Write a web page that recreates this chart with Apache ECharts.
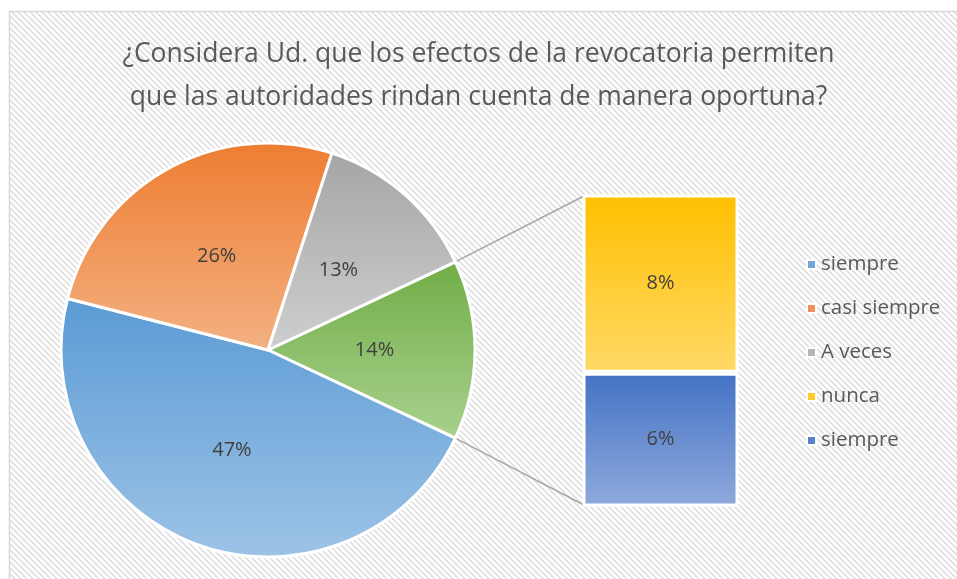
<!DOCTYPE html>
<html>
<head>
<meta charset="utf-8">
<script src="https://cdn.jsdelivr.net/npm/echarts@6/dist/echarts.min.js"></script>
<style>
html,body{margin:0;padding:0;background:#fff;}
#main{width:957px;height:579px;}
</style>
</head>
<body>
<div id="main"></div>
<script>
// ---- data ----
const titleText = '¿Considera Ud. que los efectos de la revocatoria permiten\nque las autoridades rindan cuenta de manera oportuna?';
const pieNames = ['siempre', 'casi siempre', 'A veces'];
const pieValues = [47, 26, 13];
const barNames = ['nunca', 'siempre'];
const barValues = [8, 6];
const legendLabels = ['siempre', 'casi siempre', 'A veces', 'nunca', 'siempre'];

// ---- styles ----
const pieGrad = [['#5B9BD5', '#9DC3E6'], ['#ED7D31', '#F4B183'], ['#A5A5A5', '#CFCFCF']];
const pieSolid = ['#6FA6DA', '#F0905A', '#B5B5B5'];
const otherGrad = ['#70AD47', '#A9D18E'];
const barGrad = [['#FFC000', '#FFD966'], ['#4472C4', '#8FAADC']];
const barSolid = ['#FFC82B', '#5A82CA'];

function grad(c) {
  return new echarts.graphic.LinearGradient(0, 0, 0, 1, [{offset: 0, color: c[0]}, {offset: 1, color: c[1]}]);
}

// background stripe pattern
const pc = document.createElement('canvas');
pc.width = 6; pc.height = 6;
const ctx = pc.getContext('2d');
ctx.fillStyle = '#ffffff';
ctx.fillRect(0, 0, 6, 6);
ctx.strokeStyle = '#e0e0e0';
ctx.lineWidth = 1.7;
for (let k = -2; k <= 2; k++) {
  ctx.beginPath();
  ctx.moveTo(k * 6 - 6, -6);
  ctx.lineTo(k * 6 + 12, 12);
  ctx.stroke();
}

const cx = 268, cy = 350, R = 207;
const gridLeft = 582.5, gridTop = 194.5, gridWidth = 156, gridHeight = 312;

const otherValue = barValues.reduce((a, b) => a + b, 0);
const total = pieValues.reduce((a, b) => a + b, 0) + otherValue;
const startAngle = otherValue / total * 360 / 2;

// pie data, clockwise from the "other" slice
const pieData = [{name: 'otros', value: otherValue, itemStyle: {color: grad(otherGrad)}}];
pieNames.forEach((n, i) => pieData.push({name: n, value: pieValues[i], itemStyle: {color: grad(pieGrad[i])}}));

const barSeriesNames = [barNames[0], barNames[1] + ' '];
const legendData = [
  {name: pieNames[0], itemStyle: {color: pieSolid[0]}},
  {name: pieNames[1], itemStyle: {color: pieSolid[1]}},
  {name: pieNames[2], itemStyle: {color: pieSolid[2]}},
  {name: barSeriesNames[0], itemStyle: {color: barSolid[0]}},
  {name: barSeriesNames[1], itemStyle: {color: barSolid[1]}}
];

const labelStyle = {color: '#404040', fontSize: 20, fontFamily: 'Open Sans'};

// connector lines from "other" slice edges to bar corners
const a = startAngle * Math.PI / 180;
const p1 = [cx + R * Math.cos(a), cy - R * Math.sin(a)];
const p2 = [cx + R * Math.cos(a), cy + R * Math.sin(a)];

const chart = echarts.init(document.getElementById('main'), null, {renderer: 'canvas'});
chart.setOption({
  animation: false,
  backgroundColor: '#ffffff',
  graphic: [
    {type: 'rect', z: -10, silent: true, shape: {x: 9.5, y: 11.5, width: 1000, height: 1000},
      style: {fill: {image: pc, repeat: 'repeat'}, stroke: '#d9d9d9', lineWidth: 1.5}},
    {type: 'line', z: 1, silent: true, shape: {x1: p1[0], y1: p1[1], x2: gridLeft + 1.5, y2: gridTop + 1.5},
      style: {stroke: '#a6a6a6', lineWidth: 1.5}},
    {type: 'line', z: 1, silent: true, shape: {x1: p2[0], y1: p2[1], x2: gridLeft + 1.5, y2: gridTop + gridHeight - 1.5},
      style: {stroke: '#a6a6a6', lineWidth: 1.5}}
  ],
  title: {
    text: titleText,
    left: 'center',
    top: 28,
    textStyle: {color: '#595959', fontSize: 26.5, fontWeight: 'normal', fontFamily: 'Open Sans', lineHeight: 43}
  },
  legend: {
    orient: 'vertical',
    left: 801,
    top: 248,
    itemWidth: 9,
    itemHeight: 9,
    itemGap: 21,
    icon: 'rect',
    formatter: n => n.trim(),
    textStyle: {color: '#595959', fontSize: 20.5, fontFamily: 'Open Sans', lineHeight: 23},
    data: legendData
  },
  grid: {left: gridLeft, top: gridTop, width: gridWidth, height: gridHeight},
  xAxis: {type: 'category', data: ['x'], show: false},
  yAxis: {type: 'value', min: 0, max: otherValue, show: false},
  series: [
    {
      type: 'pie',
      center: [cx, cy],
      radius: [0, R],
      startAngle: startAngle,
      clockwise: true,
      avoidLabelOverlap: false,
      itemStyle: {borderColor: '#ffffff', borderWidth: 3},
      label: Object.assign({position: 'inside', formatter: p => p.value + '%'}, labelStyle),
      labelLine: {show: false},
      emphasis: {disabled: true},
      data: pieData
    },
    {
      name: barSeriesNames[1],
      type: 'bar',
      stack: 'o',
      barWidth: '100%',
      itemStyle: {color: grad(barGrad[1]), borderColor: '#ffffff', borderWidth: 3},
      label: Object.assign({show: true, position: 'inside', formatter: p => p.value + '%'}, labelStyle),
      data: [barValues[1]]
    },
    {
      name: barSeriesNames[0],
      type: 'bar',
      stack: 'o',
      barWidth: '100%',
      itemStyle: {color: grad(barGrad[0]), borderColor: '#ffffff', borderWidth: 3},
      label: Object.assign({show: true, position: 'inside', formatter: p => p.value + '%'}, labelStyle),
      data: [barValues[0]]
    }
  ]
});
</script>
</body>
</html>
